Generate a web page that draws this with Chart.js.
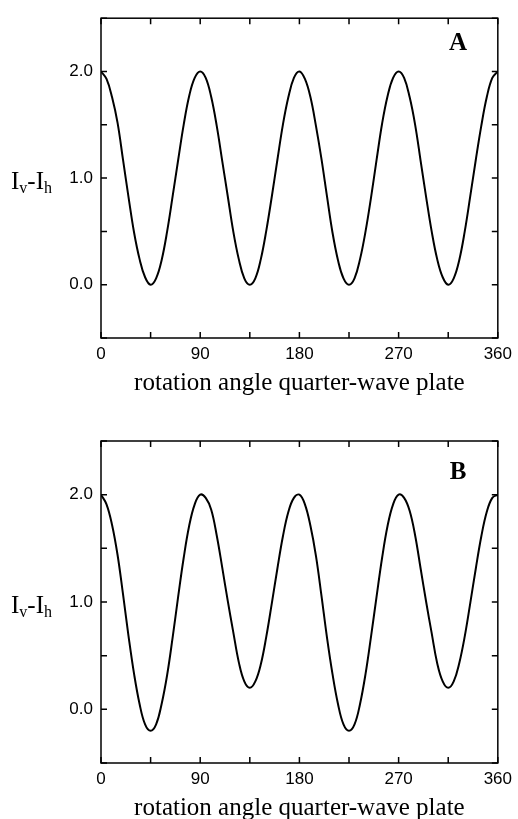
<!DOCTYPE html>
<html>
<head>
<meta charset="utf-8">
<script src="https://cdn.jsdelivr.net/npm/chart.js@4.4.1/dist/chart.umd.min.js"></script>
<style>
  body { margin: 0; background: #fff; overflow: hidden; width: 518px; height: 819px; }
  .panel { position: absolute; left: 0; }
  #panelA { top: 0; }
  #panelB { top: 410px; }
</style>
</head>
<body>
<div class="panel" id="panelA"><canvas id="chartA" width="518" height="410"></canvas></div>
<div class="panel" id="panelB"><canvas id="chartB" width="518" height="425"></canvas></div>
<script>
// rotation angle of the quarter-wave plate (degrees)
const angles = [
  0, 5, 10, 15, 20, 25, 30, 35, 40, 45, 50, 55, 60, 65, 70, 75, 80, 85,
  90, 95, 100, 105, 110, 115, 120, 125, 130, 135, 140, 145, 150, 155, 160, 165, 170, 175,
  180, 185, 190, 195, 200, 205, 210, 215, 220, 225, 230, 235, 240, 245, 250, 255, 260, 265,
  270, 275, 280, 285, 290, 295, 300, 305, 310, 315, 320, 325, 330, 335, 340, 345, 350, 355, 360
];

// Iv - Ih, panel A
const valuesA = [
  2.00, 1.93, 1.76, 1.52, 1.17, 0.82, 0.49, 0.24, 0.07, 0.00, 0.06, 0.23, 0.50, 0.83, 1.17, 1.50, 1.77, 1.94,
  2.00, 1.94, 1.76, 1.49, 1.16, 0.83, 0.50, 0.24, 0.06, 0.00, 0.06, 0.24, 0.51, 0.83, 1.17, 1.50, 1.76, 1.94,
  2.00, 1.93, 1.76, 1.49, 1.18, 0.83, 0.49, 0.23, 0.06, 0.00, 0.06, 0.24, 0.50, 0.82, 1.17, 1.51, 1.77, 1.94,
  2.00, 1.94, 1.76, 1.50, 1.16, 0.82, 0.50, 0.24, 0.07, 0.00, 0.06, 0.23, 0.50, 0.83, 1.17, 1.49, 1.76, 1.94, 2.00
];

// Iv - Ih, panel B
const valuesB = [
  2.00, 1.91, 1.72, 1.44, 1.07, 0.68, 0.33, 0.05, -0.14, -0.20, -0.14, 0.05, 0.32, 0.67, 1.05, 1.41, 1.71, 1.91,
  2.00, 1.97, 1.86, 1.62, 1.32, 1.01, 0.72, 0.44, 0.26, 0.20, 0.26, 0.42, 0.68, 0.99, 1.31, 1.61, 1.84, 1.97,
  2.00, 1.91, 1.71, 1.43, 1.06, 0.67, 0.33, 0.05, -0.14, -0.20, -0.14, 0.05, 0.33, 0.68, 1.05, 1.41, 1.71, 1.91,
  2.00, 1.97, 1.85, 1.62, 1.31, 1.00, 0.71, 0.43, 0.26, 0.20, 0.26, 0.43, 0.68, 0.99, 1.31, 1.61, 1.84, 1.97, 2.00
];

const xTickLabels = [0, 90, 180, 270, 360];
const yTickLabels = [0, 1, 2];

// frame, inward ticks on all four sides, y title with subscripts, panel letter
const framePlugin = {
  id: 'frame',
  afterDraw(chart, args, opts) {
    const ctx = chart.ctx;
    const { left, right, top, bottom } = chart.chartArea;
    const xs = chart.scales.x, ys = chart.scales.y;
    const tl = 6;
    ctx.save();
    ctx.strokeStyle = '#000';
    ctx.lineWidth = 1.5;
    ctx.strokeRect(left, top, right - left, bottom - top);
    ctx.beginPath();
    xs.ticks.forEach(t => {
      const px = xs.getPixelForValue(t.value);
      ctx.moveTo(px, bottom); ctx.lineTo(px, bottom - tl);
      ctx.moveTo(px, top); ctx.lineTo(px, top + tl);
    });
    ys.ticks.forEach(t => {
      const py = ys.getPixelForValue(t.value);
      ctx.moveTo(left, py); ctx.lineTo(left + tl, py);
      ctx.moveTo(right, py); ctx.lineTo(right - tl, py);
    });
    ctx.stroke();

    // y axis title: Iv-Ih
    const base = ys.getPixelForValue(1.0) + 11;
    let x = 11;
    ctx.fillStyle = '#000';
    ctx.textBaseline = 'alphabetic';
    ctx.textAlign = 'left';
    const parts = [['I', 25, 0], ['v', 16, 4], ['-', 25, 0], ['I', 25, 0], ['h', 16, 4]];
    parts.forEach(([s, size, dy]) => {
      ctx.font = size + 'px "Liberation Serif"';
      ctx.fillText(s, x, base + dy);
      x += ctx.measureText(s).width;
    });

    // panel letter
    ctx.font = 'bold 25px "Liberation Serif"';
    ctx.textAlign = 'center';
    ctx.textBaseline = 'middle';
    ctx.fillText(opts.letter, xs.getPixelForValue(opts.letterX), ys.getPixelForValue(opts.letterY));
    ctx.restore();
  }
};

function makeChart(id, values, topPad, letter, letterY) {
  const ctx = document.getElementById(id).getContext('2d');
  return new Chart(ctx, {
    type: 'line',
    data: {
      datasets: [{
        data: angles.map((a, i) => ({ x: a, y: values[i] })),
        borderColor: '#000',
        borderWidth: 2,
        pointRadius: 0,
        tension: 0.4,
        fill: false
      }]
    },
    options: {
      responsive: false,
      animation: false,
      layout: { padding: { top: topPad, right: 18, left: 0, bottom: 0 } },
      plugins: {
        legend: { display: false },
        tooltip: { enabled: false },
        frame: { letter: letter, letterX: 324, letterY: letterY }
      },
      scales: {
        x: {
          type: 'linear',
          min: 0,
          max: 360,
          grid: { display: false, drawTicks: false },
          border: { display: false },
          afterFit: s => { s.height = 72; },
          ticks: {
            stepSize: 45,
            autoSkip: false,
            maxRotation: 0,
            padding: 6,
            color: '#000',
            font: { family: '"Liberation Sans"', size: 17 },
            callback: v => xTickLabels.includes(v) ? String(v) : ''
          },
          title: {
            display: true,
            text: 'rotation angle quarter-wave plate',
            color: '#000',
            font: { family: '"Liberation Serif"', size: 25 },
            padding: { top: 0, bottom: 12 }
          }
        },
        y: {
          min: -0.5,
          max: 2.5,
          grid: { display: false, drawTicks: false },
          border: { display: false },
          afterFit: s => { s.width = 101; },
          ticks: {
            stepSize: 0.5,
            autoSkip: false,
            padding: 8,
            color: '#000',
            font: { family: '"Liberation Sans"', size: 17 },
            callback: v => yTickLabels.includes(v) ? v.toFixed(1) : ''
          }
        }
      }
    },
    plugins: [framePlugin]
  });
}

makeChart('chartA', valuesA, 15, 'A', 2.26);
makeChart('chartB', valuesB, 31, 'B', 2.21);
</script>
</body>
</html>
